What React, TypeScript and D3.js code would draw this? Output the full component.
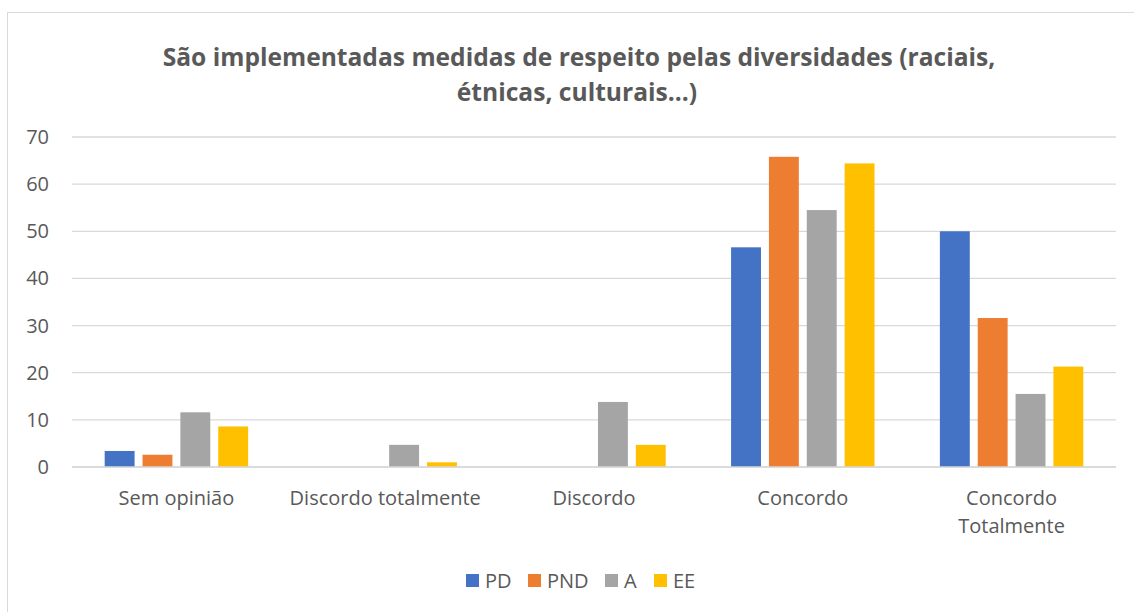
import * as d3 from 'd3';

const categories = ['Sem opinião', 'Discordo totalmente', 'Discordo', 'Concordo', 'Concordo Totalmente'];
const seriesNames = ['PD', 'PND', 'A', 'EE'];
const seriesColors = ['#4472c4', '#ed7d31', '#a5a5a5', '#ffc000'];

const pd = [3.4, 0, 0, 46.6, 50.0];
const pnd = [2.6, 0, 0, 65.8, 31.6];
const a = [11.6, 4.7, 13.8, 54.5, 15.5];
const ee = [8.6, 1.0, 4.7, 64.4, 21.3];

const yTicks = [0, 10, 20, 30, 40, 50, 60, 70];

const W = 1134;
const H = 612;
const FONT = '"Open Sans", "DejaVu Sans", sans-serif';

export default function App() {
  const series = [pd, pnd, a, ee];
  const plot = { left: 72, right: 1116, top: 137, bottom: 467 };

  const x = d3.scaleBand<string>().domain(categories).range([plot.left, plot.right]);
  const groupW = x.bandwidth() * 0.687;
  const xi = d3
    .scaleBand<string>()
    .domain(seriesNames)
    .range([(x.bandwidth() - groupW) / 2, (x.bandwidth() + groupW) / 2])
    .paddingInner(0.21);
  const y = d3.scaleLinear().domain([0, 70]).range([plot.bottom, plot.top]);

  const legendX = [466, 528, 605, 654];

  return (
    <svg width={W} height={H} style={{ position: 'fixed', left: 0, top: 0, background: '#fff' }}>
      <rect x={7.5} y={12.5} width={W} height={H} fill="#fff" stroke="#d9d9d9" />

      <text x={579} y={66} textAnchor="middle" fontFamily={FONT} fontWeight="bold" fontSize={24.6} fill="#595959">
        São implementadas medidas de respeito pelas diversidades (raciais,
      </text>
      <text x={577} y={101} textAnchor="middle" fontFamily={FONT} fontWeight="bold" fontSize={24.6} fill="#595959">
        étnicas, culturais...)
      </text>

      {/* Grid lines + y labels */}
      {yTicks.map((t) => (
        <g key={t}>
          <line x1={plot.left} x2={plot.right} y1={y(t)} y2={y(t)} stroke="#d9d9d9" strokeWidth={1.3} />
          <text x={49} y={y(t)} dy="0.35em" textAnchor="end" fontFamily={FONT} fontSize={20} fill="#595959">
            {t}
          </text>
        </g>
      ))}

      {/* Bars */}
      {categories.map((c, ci) => (
        <g key={c} transform={`translate(${x(c)},0)`}>
          {series.map((s, si) =>
            s[ci] > 0 ? (
              <rect
                key={si}
                x={xi(seriesNames[si])}
                y={y(s[ci])}
                width={xi.bandwidth()}
                height={y(0) - y(s[ci])}
                fill={seriesColors[si]}
              />
            ) : null
          )}
        </g>
      ))}

      {/* Baseline */}
      <line x1={plot.left} x2={plot.right} y1={y(0)} y2={y(0)} stroke="#d9d9d9" strokeWidth={1.3} />

      {/* X labels */}
      {categories.map((c) => {
        const cx = (x(c) ?? 0) + x.bandwidth() / 2;
        const lines = c === 'Concordo Totalmente' ? ['Concordo', 'Totalmente'] : [c];
        return (
          <text key={c} x={cx} y={505} textAnchor="middle" fontFamily={FONT} fontSize={20} fill="#595959">
            {lines.map((l, i) => (
              <tspan key={i} x={cx} dy={i === 0 ? 0 : 28}>
                {l}
              </tspan>
            ))}
          </text>
        );
      })}

      {/* Legend */}
      {seriesNames.map((n, i) => (
        <g key={n}>
          <rect x={legendX[i]} y={574} width={13} height={13} fill={seriesColors[i]} />
          <text x={legendX[i] + 19} y={581} dy="0.35em" fontFamily={FONT} fontSize={20} fill="#595959">
            {n}
          </text>
        </g>
      ))}
    </svg>
  );
}
